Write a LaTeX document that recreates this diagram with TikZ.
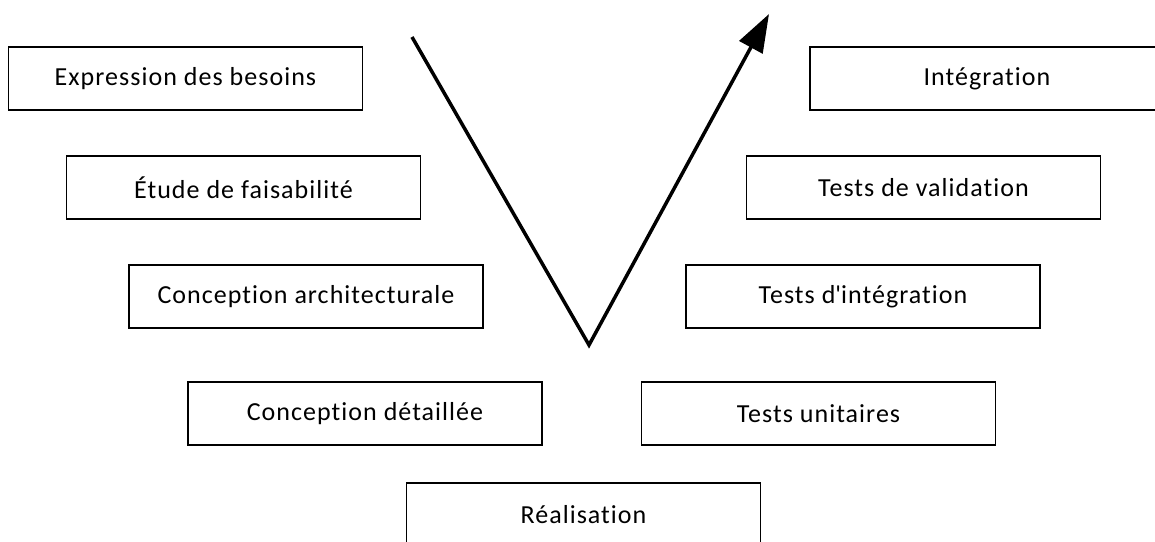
\documentclass[tikz,border=0pt]{standalone}
\usepackage{fontspec}
\setmainfont{Carlito}[LetterSpace=4, Ligatures=CommonOff]
\usepackage{tikz}
\usetikzlibrary{positioning, arrows.meta}

\begin{document}
\begin{tikzpicture}[x=0.5pt, y=-0.5pt,
    etape/.style={draw, line width=0.75pt, minimum width=177pt, minimum height=31.5pt, inner sep=0pt, font=\fontsize{13}{15}\selectfont}]
  \clip (0,0) rectangle (1155,541);
  % branche descendante
  \node[etape] (besoins) at (185.5,78.5) {Expression des besoins};
  \node[etape] (faisab) at (243.5,187.5) {Étude de faisabilité};
  \node[etape] (archi) at (306,296.5) {Conception architecturale};
  \node[etape] (detail) at (365,413.5) {Conception détaillée};
  \node[etape] (real) at (583.5,514.5) {Réalisation};
  % branche montante
  \node[etape] (unit) at (818.5,413.5) {Tests unitaires};
  \node[etape] (testint) at (863,296.5) {Tests d\textquotesingle intégration};
  \node[etape] (valid) at (923.5,187.5) {Tests de validation};
  \node[etape] (integ) at (987,78.5) {Intégration};
  % le V
  \coordinate (haut) at (412,37);
  \coordinate (bas) at (589,345);
  \coordinate (fin) at (769,14);
  \draw[line width=1.75pt, -{Triangle[length=19pt, width=13pt]}] (haut) -- (bas) -- (fin);
\end{tikzpicture}
\end{document}
